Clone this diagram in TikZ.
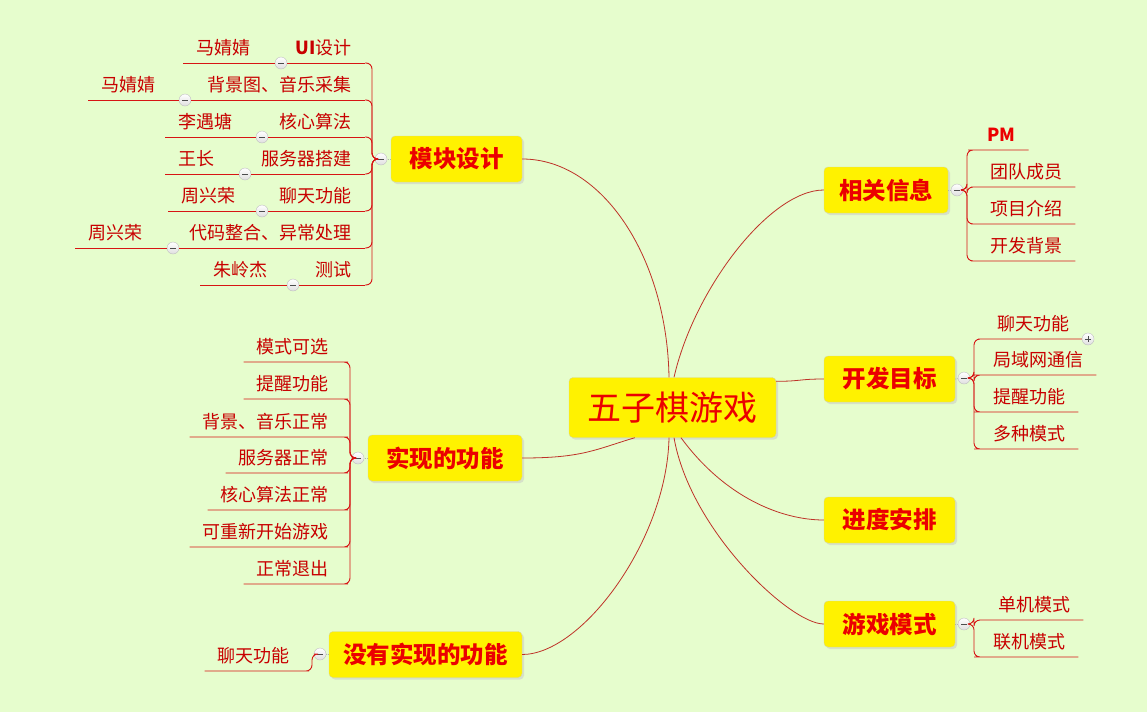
\documentclass[tikz,border=0pt]{standalone}
\usepackage{fontspec}
\setmainfont{Noto Sans CJK SC}
\usetikzlibrary{shadows}

\definecolor{bgg}{RGB}{230,253,205}
\definecolor{lred}{RGB}{215,20,20}
\definecolor{ltxt}{RGB}{200,0,0}
\definecolor{ttxt}{RGB}{235,0,0}
\definecolor{brn}{RGB}{190,50,40}
\definecolor{boxb}{RGB}{215,215,150}

\tikzset{
  topic/.style={draw=boxb,fill=yellow,rounded corners=4pt,minimum height=46pt,minimum width=131pt,
    inner sep=0pt,text=ttxt,font=\fontsize{23.5}{26}\selectfont\bfseries,
    drop shadow={shadow xshift=2pt,shadow yshift=-2pt,fill=black!22}},
  lleaf/.style={anchor=south east,inner xsep=13pt,inner ysep=5pt,text height=14pt,text depth=3pt,
    text=ltxt,font=\fontsize{18}{20}\selectfont},
  rleaf/.style={lleaf,anchor=south west},
  cbtn/.style={circle,draw=gray!50,top color=white,bottom color=gray!25,minimum size=12pt,inner sep=0pt,
    path picture={\draw[gray!60!black,line width=1pt]
      ([xshift=-2.6pt]path picture bounding box.center) -- ([xshift=2.6pt]path picture bounding box.center);}},
  pbtn/.style={cbtn,path picture={\draw[gray!60!black,line width=1pt]
      ([xshift=-2.6pt]path picture bounding box.center) -- ([xshift=2.6pt]path picture bounding box.center)
      ([yshift=-2.6pt]path picture bounding box.center) -- ([yshift=2.6pt]path picture bounding box.center);}},
  br/.style={draw=lred,line width=0.9pt,rounded corners=6pt},
  mainbr/.style={draw=brn,line width=0.8pt},
  stub/.style={draw=gray!60,densely dotted,line width=0.8pt}
}

\begin{document}
\begin{tikzpicture}[x=1pt,y=-1pt]
  % background
  \fill[bgg] (0,0) rectangle (1147,712);
  \useasboundingbox (0,0) rectangle (1147,712);

  % center + topics
  \node[topic,minimum width=207pt,minimum height=60pt,font=\fontsize{34}{38}\selectfont] (root) at (672.5,407.5) {五子棋游戏};
  \node[topic] (mk) at (456.5,159) {模块设计};
  \node[topic,minimum width=154pt] (sx) at (445,458) {实现的功能};
  \node[topic,minimum width=193pt] (wsx) at (425.5,654.5) {没有实现的功能};
  \node[topic,minimum width=124pt] (xg) at (886,190) {相关信息};
  \node[topic] (kf) at (889.5,379) {开发目标};
  \node[topic] (jd) at (889.5,520) {进度安排};
  \node[topic] (yx) at (889.5,624) {游戏模式};

  % main branches
  \draw[mainbr] (mk.east) .. controls +(80,0) and +(-2,-120) .. ([xshift=-3.5pt]root.north);
  \draw[mainbr] ([xshift=1.5pt]root.north) .. controls +(20,-88) and +(-54,0) .. (xg.west);
  \draw[mainbr] ([yshift=-4pt]root.north east) .. controls +(25,0) and +(-25,0) .. (kf.west);
  \draw[mainbr] (sx.east) .. controls +(60,0) and +(-40,12) .. ([xshift=66pt]root.south west);
  \draw[mainbr] (wsx.east) .. controls +(60,0) and +(-2,102) .. ([xshift=-3.5pt]root.south);
  \draw[mainbr] ([xshift=8.5pt]root.south) .. controls +(44,60) and +(-42,0) .. (jd.west);
  \draw[mainbr] ([xshift=1.5pt]root.south) .. controls +(16,92) and +(-34,0) .. (yx.west);

  % 模块设计
  \node[cbtn] (mkc) at (381,159) {};
  \draw[stub] (mk.west) -- (mkc);
  \node[lleaf] (m1) at (365,63) {\textbf{UI}设计};
  \node[lleaf] (m2) at (365,100) {背景图、音乐采集};
  \node[lleaf] (m3) at (365,137) {核心算法};
  \node[lleaf] (m4) at (365,174) {服务器搭建};
  \node[lleaf] (m5) at (365,211) {聊天功能};
  \node[lleaf] (m6) at (365,248) {代码整合、异常处理};
  \node[lleaf] (m7) at (365,285) {测试};
  \node[cbtn] (m1c) at (281,63) {};
  \node[cbtn] (m2c) at (185,100) {};
  \node[cbtn] (m3c) at (262,137) {};
  \node[cbtn] (m4c) at (245,174) {};
  \node[cbtn] (m5c) at (262,211) {};
  \node[cbtn] (m6c) at (173,248) {};
  \node[cbtn] (m7c) at (293,285) {};
  \node[rleaf] (p1) at (183,63) {马婧婧};
  \node[rleaf] (p2) at (88,100) {马婧婧};
  \node[rleaf] (p3) at (165,137) {李遇塘};
  \node[rleaf] (p4) at (165,174) {王长};
  \node[rleaf] (p5) at (168,211) {周兴荣};
  \node[rleaf] (p6) at (75,248) {周兴荣};
  \node[rleaf] (p7) at (200,285) {朱岭杰};
  \draw[br] (mkc) -- ++(-9,0) |- (m1.south east);
  \draw[br] (mkc) -- ++(-9,0) |- (m2.south east);
  \draw[br] (mkc) -- ++(-9,0) |- (m3.south east);
  \draw[br] (mkc) -- ++(-9,0) |- (m4.south east);
  \draw[br] (mkc) -- ++(-9,0) |- (m5.south east);
  \draw[br] (mkc) -- ++(-9,0) |- (m6.south east);
  \draw[br] (mkc) -- ++(-9,0) |- (m7.south east);
  \draw[br] (p1.south west) -- (m1c) -- (m1.south east);
  \draw[br] (p2.south west) -- (m2c) -- (m2.south east);
  \draw[br] (p3.south west) -- (m3c) -- (m3.south east);
  \draw[br] (p4.south west) -- (m4c) -- (m4.south east);
  \draw[br] (p5.south west) -- (m5c) -- (m5.south east);
  \draw[br] (p6.south west) -- (m6c) -- (m6.south east);
  \draw[br] (p7.south west) -- (m7c) -- (m7.south east);

  % 实现的功能
  \node[cbtn] (sxc) at (358,458) {};
  \draw[stub] (sx.west) -- (sxc);
  \node[lleaf] (s1) at (342,362) {模式可选};
  \node[lleaf] (s2) at (342,399) {提醒功能};
  \node[lleaf] (s3) at (342,437) {背景、音乐正常};
  \node[lleaf] (s4) at (342,473) {服务器正常};
  \node[lleaf] (s5) at (342,510) {核心算法正常};
  \node[lleaf] (s6) at (342,547) {可重新开始游戏};
  \node[lleaf] (s7) at (342,584) {正常退出};
  \draw[br] (sxc) -- ++(-8,0) |- (s1.south east) -- (s1.south west);
  \draw[br] (sxc) -- ++(-8,0) |- (s2.south east) -- (s2.south west);
  \draw[br] (sxc) -- ++(-8,0) |- (s3.south east) -- (s3.south west);
  \draw[br] (sxc) -- ++(-8,0) |- (s4.south east) -- (s4.south west);
  \draw[br] (sxc) -- ++(-8,0) |- (s5.south east) -- (s5.south west);
  \draw[br] (sxc) -- ++(-8,0) |- (s6.south east) -- (s6.south west);
  \draw[br] (sxc) -- ++(-8,0) |- (s7.south east) -- (s7.south west);

  % 没有实现的功能
  \node[cbtn] (wsxc) at (320,654) {};
  \draw[stub] (wsx.west) -- (wsxc);
  \node[lleaf] (n1) at (303,671) {聊天功能};
  \draw[br] (wsxc) -- ++(-8,0) |- (n1.south east) -- (n1.south west);

  % 相关信息
  \node[cbtn] (xgc) at (957,190) {};
  \draw[stub] (xg.east) -- (xgc);
  \node[rleaf,text=ttxt,font=\fontsize{18}{20}\selectfont\bfseries] (x1) at (974,150) {PM};
  \node[rleaf] (x2) at (977,187) {团队成员};
  \node[rleaf] (x3) at (977,224) {项目介绍};
  \node[rleaf] (x4) at (977,261) {开发背景};
  \draw[br] (xgc) -- ++(10,0) |- (x1.south west) -- (x1.south east);
  \draw[br] (xgc) -- ++(10,0) |- (x2.south west) -- (x2.south east);
  \draw[br] (xgc) -- ++(10,0) |- (x3.south west) -- (x3.south east);
  \draw[br] (xgc) -- ++(10,0) |- (x4.south west) -- (x4.south east);

  % 开发目标
  \node[cbtn] (kfc) at (964,378) {};
  \draw[stub] (kf.east) -- (kfc);
  \node[rleaf] (k1) at (984,339) {聊天功能};
  \node[rleaf] (k2) at (980,375) {局域网通信};
  \node[rleaf] (k3) at (980,412) {提醒功能};
  \node[rleaf] (k4) at (980,449) {多种模式};
  \node[pbtn] (kp) at (1088,339) {};
  \draw[br] (kfc) -- ++(10,0) |- (k1.south west) -- (k1.south east) -- (kp);
  \draw[br] (kfc) -- ++(10,0) |- (k2.south west) -- (k2.south east);
  \draw[br] (kfc) -- ++(10,0) |- (k3.south west) -- (k3.south east);
  \draw[br] (kfc) -- ++(10,0) |- (k4.south west) -- (k4.south east);

  % 游戏模式
  \node[cbtn] (yxc) at (964,624) {};
  \draw[stub] (yx.east) -- (yxc);
  \node[rleaf] (g1) at (985,620) {单机模式};
  \node[rleaf] (g2) at (980,657) {联机模式};
  \draw[br] (yxc) -- ++(10,0) |- (g1.south west) -- (g1.south east);
  \draw[br] (yxc) -- ++(10,0) |- (g2.south west) -- (g2.south east);
\end{tikzpicture}
\end{document}
